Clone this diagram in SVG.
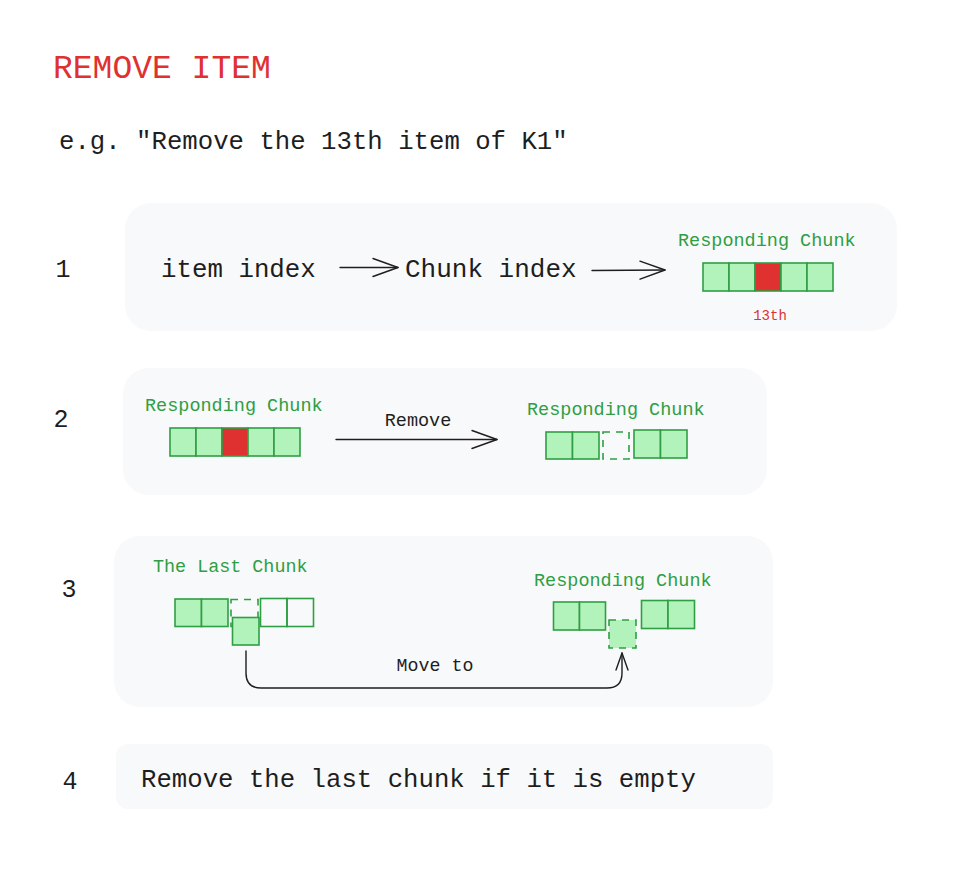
<svg xmlns="http://www.w3.org/2000/svg" width="955" height="873" viewBox="0 0 955 873">
<defs>
<style>
.bg{fill:#ffffff}
.panel{fill:#f8f9fa;stroke:none}
.t{font-family:"Liberation Mono","DejaVu Sans Mono",monospace;fill:#1e1e1e}
.g{fill:#2f9e44}
.r{fill:#e03131}
.cell{fill:#b2f2bb;stroke:#2f9e44;stroke-width:1.6}
.red{fill:#e03131;stroke:#2f9e44;stroke-width:1.6}
.empty{fill:none;stroke:#2f9e44;stroke-width:1.6}
.dash{fill:none;stroke:#2f9e44;stroke-width:1.6;stroke-dasharray:7 6}
.dashg{fill:#b2f2bb;stroke:#2f9e44;stroke-width:1.6;stroke-dasharray:7 6}
.conn{fill:none;stroke:#1e1e1e;stroke-width:1.4;stroke-linecap:round;stroke-linejoin:round}
</style>
<marker id="arr" markerUnits="userSpaceOnUse" viewBox="0 0 28 22" refX="26" refY="11" markerWidth="28" markerHeight="22" orient="auto">
<path d="M1,2 L26,11 L1,20" fill="none" stroke="#1e1e1e" stroke-width="1.4" stroke-linecap="round" stroke-linejoin="round"/>
</marker>
<marker id="arrs" markerUnits="userSpaceOnUse" viewBox="0 0 20 16" refX="18" refY="8" markerWidth="20" markerHeight="16" orient="auto">
<path d="M1,2 L18,8 L1,14" fill="none" stroke="#1e1e1e" stroke-width="1.4" stroke-linecap="round" stroke-linejoin="round"/>
</marker>
</defs>
<rect class="bg" x="0" y="0" width="955" height="873"/>

<g id="title">
<text class="t r" x="53" y="78" font-size="33">REMOVE ITEM</text>
<text class="t" x="59" y="149" font-size="25.7">e.g. "Remove the 13th item of K1"</text>
</g>

<g id="step1">
<rect class="panel" x="125" y="203" width="772" height="128" rx="26"/>
<text class="t" x="63" y="277" font-size="25" text-anchor="middle">1</text>
<g id="s1-item"><text class="t" x="161" y="277" font-size="25.8">item index</text></g>
<g id="s1-chunkidx"><text class="t" x="405" y="277" font-size="26">Chunk index</text></g>
<g id="s1-chunk">
<text class="t g" x="678" y="246" font-size="18.5">Responding Chunk</text>
<rect class="cell" x="703" y="263" width="26" height="28"/>
<rect class="cell" x="729" y="263" width="26" height="28"/>
<rect class="red" x="755" y="263" width="26" height="28"/>
<rect class="cell" x="781" y="263" width="26" height="28"/>
<rect class="cell" x="807" y="263" width="26" height="28"/>
<text class="t r" x="770" y="320" font-size="14" text-anchor="middle">13th</text>
</g>
</g>

<g id="step2">
<rect class="panel" x="123" y="368" width="644" height="127" rx="26"/>
<text class="t" x="61" y="427" font-size="25" text-anchor="middle">2</text>
<g id="s2-left">
<text class="t g" x="145" y="411" font-size="18.5">Responding Chunk</text>
<rect class="cell" x="170" y="428" width="26" height="28"/>
<rect class="cell" x="196" y="428" width="26" height="28"/>
<rect class="red" x="222" y="428" width="26" height="28"/>
<rect class="cell" x="248" y="428" width="26" height="28"/>
<rect class="cell" x="274" y="428" width="26" height="28"/>
</g>
<g id="s2-right">
<text class="t g" x="527" y="415" font-size="18.5">Responding Chunk</text>
<rect class="cell" x="546" y="432" width="26.5" height="27"/>
<rect class="cell" x="572.5" y="432" width="26.5" height="27"/>
<rect class="dash" x="603" y="432" width="26" height="27"/>
<rect class="cell" x="634" y="430" width="26.5" height="28"/>
<rect class="cell" x="660.5" y="430" width="26.5" height="28"/>
</g>
</g>

<g id="step3">
<rect class="panel" x="114" y="536" width="659" height="171" rx="26"/>
<text class="t" x="69" y="597" font-size="25" text-anchor="middle">3</text>
<g id="s3-left">
<text class="t g" x="153" y="572" font-size="18.4">The Last Chunk</text>
<rect class="cell" x="175" y="599" width="26.5" height="27.5"/>
<rect class="cell" x="201.5" y="599" width="26.5" height="27.5"/>
<rect class="dash" x="231" y="599.5" width="27" height="27"/>
<rect class="empty" x="260.5" y="598.5" width="26.5" height="28"/>
<rect class="empty" x="287" y="598.5" width="26.5" height="28"/>
<rect class="cell" x="232.5" y="617.5" width="26.5" height="27.5"/>
</g>
<g id="s3-right">
<text class="t g" x="534" y="586" font-size="18.5">Responding Chunk</text>
<rect class="cell" x="553.5" y="602" width="26" height="28"/>
<rect class="cell" x="579.5" y="602" width="26" height="28"/>
<rect class="dashg" x="609" y="620" width="27" height="28"/>
<rect class="cell" x="641.5" y="600.5" width="26.5" height="28"/>
<rect class="cell" x="668" y="600.5" width="26.5" height="28"/>
</g>
</g>

<g id="step4">
<rect class="panel" x="116" y="744" width="657" height="65" rx="12"/>
<text class="t" x="70" y="789" font-size="25" text-anchor="middle">4</text>
<text class="t" x="141" y="787" font-size="25.7">Remove the last chunk if it is empty</text>
</g>

<g id="connectors">
<path class="conn" d="M340,267.5 L398,267.5" marker-end="url(#arr)"/>
<path class="conn" d="M592,270.5 L665,270" marker-end="url(#arr)"/>
<path class="conn" d="M336,439.5 L497,439.5" marker-end="url(#arr)"/>
<text class="t" x="418" y="426" font-size="18.5" text-anchor="middle">Remove</text>
<path class="conn" d="M246,651 L246,673 Q246,688 261,688 L607,688 Q622,688 622,673 L622,653" marker-end="url(#arrs)"/>
<text class="t" x="435" y="671" font-size="18.3" text-anchor="middle">Move to</text>
</g>
</svg>
